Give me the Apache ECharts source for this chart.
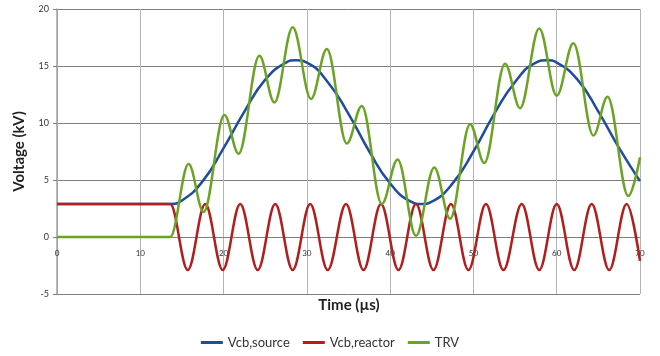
<!DOCTYPE html>
<html>
<head>
<meta charset="utf-8">
<script src="https://cdn.jsdelivr.net/npm/echarts@6/dist/echarts.min.js"></script>
<style>
    html, body { margin: 0; padding: 0; background: #fff; }
    #main { width: 660px; height: 356px; }
</style>
</head>
<body>
<div id="main"></div>
<script type="text/javascript">
    // values: time in µs, voltage in kV
    var xTicks = [0, 10, 20, 30, 40, 50, 60, 70];
    var yTicks = [-5, 0, 5, 10, 15, 20];

    var sourceTime = [0, 13.6, 15, 17.5, 20, 22.5, 25, 27.5, 28.65, 30, 32.5, 35, 37.5, 40, 42.5, 43.75,
        45, 47.5, 50, 52.5, 55, 57.5, 58.85, 60, 62.5, 65, 67.5, 70];
    var sourceKV = [2.9, 2.9, 3.2, 4.9, 7.8, 11.0, 13.8, 15.3, 15.5, 15.3, 13.6, 10.8, 7.5, 4.7, 3.1, 2.9,
        3.1, 4.7, 7.5, 10.8, 13.6, 15.3, 15.5, 15.3, 13.8, 11.0, 7.8, 4.9];

    // reactor side: peaks and troughs only
    var reactorTime = [0, 13.6, 15.7, 17.8, 19.9, 22.0, 24.1, 26.2, 28.3, 30.4, 32.5, 34.7, 36.8, 38.9, 41.0,
        43.1, 45.2, 47.3, 49.4, 51.5, 53.6, 55.8, 57.9, 60.0, 62.1, 64.2, 66.3, 68.4, 70];
    var reactorKV = [2.9, 2.9, -2.9, 2.9, -2.9, 2.9, -2.9, 2.9, -2.9, 2.9, -2.9, 2.9, -2.9, 2.9, -2.9,
        2.9, -2.9, 2.9, -2.9, 2.9, -2.9, 2.9, -2.9, 2.9, -2.9, 2.9, -2.9, 2.9, -2.1];

    // TRV: peaks and troughs only
    var trvTime = [0, 13.6, 15.8, 17.6, 20.1, 21.8, 24.3, 26.1, 28.3, 30.5, 32.4, 34.8, 36.6, 39.0, 40.9,
        43.1, 45.3, 47.2, 49.6, 51.3, 53.8, 55.6, 57.9, 60.0, 62.0, 64.4, 66.1, 68.6, 70];
    var trvKV = [0, 0, 6.4, 2.2, 10.7, 7.3, 15.9, 11.8, 18.4, 12.1, 16.5, 8.2, 11.5, 2.9, 6.8,
        0.1, 6.1, 1.6, 9.9, 6.5, 15.2, 11.3, 18.3, 12.4, 17.0, 8.9, 12.3, 3.6, 7.0];

    function pairs(t, v) {
        return t.map(function (x, i) { return [x, v[i]]; });
    }

    var font = 'Lato, "Open Sans", sans-serif';
    var myChart = echarts.init(document.getElementById('main'));

    // x axis sits on the 0 kV line: 57px above the bottom of the grid
    var option = {
        animation: false,
        backgroundColor: '#fff',
        textStyle: { fontFamily: font },
        grid: { left: 57, right: 20, top: 9, bottom: 62 },
        graphic: [{
            type: 'text',
            x: 349,
            y: 305,
            style: {
                text: 'Time (µs)',
                align: 'center',
                verticalAlign: 'middle',
                fill: '#222',
                font: 'bold 15px ' + font
            }
        }],
        legend: {
            top: 331,
            left: 'center',
            icon: 'rect',
            itemWidth: 22,
            itemHeight: 3,
            itemGap: 13,
            textStyle: { fontSize: 13, color: '#333', fontFamily: font },
            data: ['Vcb,source', 'Vcb,reactor', 'TRV']
        },
        xAxis: {
            type: 'value',
            min: xTicks[0],
            max: xTicks[xTicks.length - 1],
            interval: xTicks[1] - xTicks[0],
            offset: -57,
            axisLine: { onZero: false, lineStyle: { color: '#7f7f7f' } },
            axisTick: { show: false },
            axisLabel: { fontSize: 8, color: '#333', margin: 12 },
            splitLine: { lineStyle: { color: '#b4b4b4' } }
        },
        yAxis: {
            type: 'value',
            min: yTicks[0],
            max: yTicks[yTicks.length - 1],
            interval: yTicks[1] - yTicks[0],
            name: 'Voltage (kV)',
            nameLocation: 'middle',
            nameRotate: 90,
            nameGap: 30,
            nameTextStyle: { fontSize: 15, fontWeight: 'bold', color: '#222' },
            axisLine: { show: true, onZero: false, lineStyle: { color: '#a0a0a0', width: 1.5 } },
            axisTick: { show: true, length: 4, lineStyle: { color: '#7f7f7f' } },
            axisLabel: { fontSize: 9, color: '#333', margin: 8 },
            splitLine: { lineStyle: { color: '#7f7f7f' } }
        },
        series: [{
            name: 'Vcb,source',
            type: 'line',
            data: pairs(sourceTime, sourceKV),
            smooth: 0.5,
            showSymbol: false,
            symbol: 'none',
            color: '#1f4c9e',
            lineStyle: { width: 2.5 }
        }, {
            name: 'Vcb,reactor',
            type: 'line',
            data: pairs(reactorTime, reactorKV),
            smooth: 0.36,
            smoothMonotone: 'x',
            showSymbol: false,
            symbol: 'none',
            color: '#b01e1e',
            lineStyle: { width: 2.5 }
        }, {
            name: 'TRV',
            type: 'line',
            data: pairs(trvTime, trvKV),
            smooth: 0.36,
            smoothMonotone: 'x',
            showSymbol: false,
            symbol: 'none',
            color: '#6ba424',
            lineStyle: { width: 2.5 }
        }]
    };

    myChart.setOption(option);
</script>
</body>
</html>
